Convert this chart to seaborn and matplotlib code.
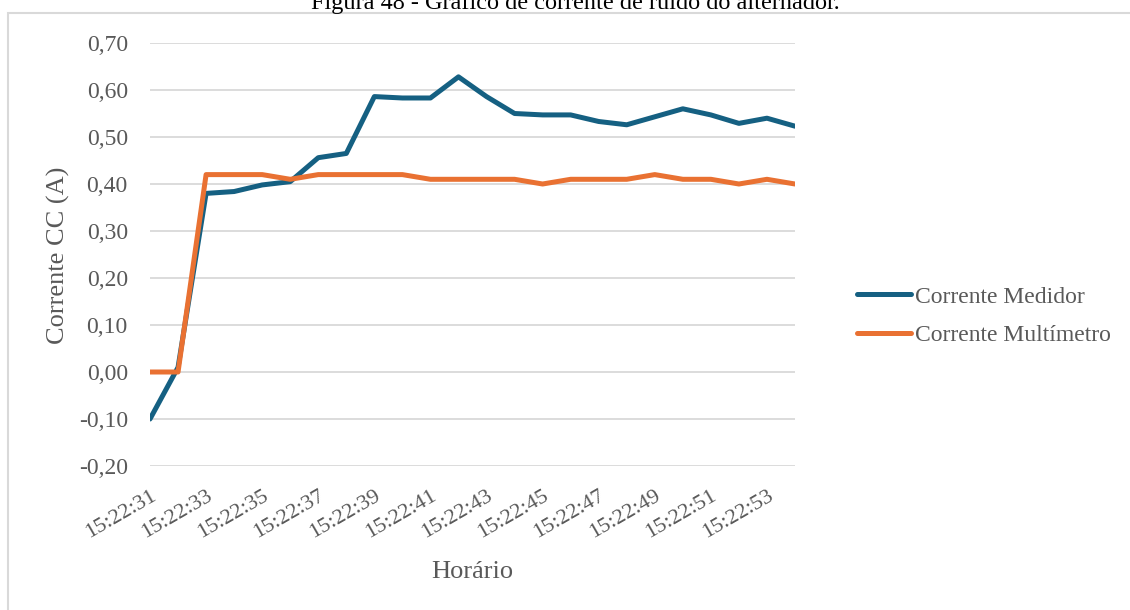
import numpy as np
import pandas as pd
import matplotlib
matplotlib.use("Agg")
import matplotlib.pyplot as plt
import seaborn as sns
from matplotlib.patches import Rectangle
from matplotlib.ticker import FuncFormatter, MultipleLocator

# ---- data ----
times = ["15:22:31", "15:22:32", "15:22:33", "15:22:34", "15:22:35", "15:22:36",
         "15:22:37", "15:22:38", "15:22:39", "15:22:40", "15:22:41", "15:22:42",
         "15:22:43", "15:22:44", "15:22:45", "15:22:46", "15:22:47", "15:22:48",
         "15:22:49", "15:22:50", "15:22:51", "15:22:52", "15:22:53", "15:22:54"]
corrente_medidor = [-0.10, 0.01, 0.38, 0.384, 0.398, 0.405, 0.456, 0.465, 0.586, 0.583,
                    0.583, 0.628, 0.586, 0.550, 0.547, 0.547, 0.533, 0.526, 0.543,
                    0.560, 0.547, 0.529, 0.540, 0.523]
corrente_multimetro = [0.00, 0.00, 0.42, 0.42, 0.42, 0.41, 0.42, 0.42, 0.42, 0.42,
                       0.41, 0.41, 0.41, 0.41, 0.40, 0.41, 0.41, 0.41, 0.42, 0.41,
                       0.41, 0.40, 0.41, 0.40]
series_names = ["Corrente Medidor", "Corrente Multímetro"]
colors = ["#156082", "#E97132"]

title = "Figura 48 - Gráfico de corrente de ruído do alternador."
ylabel = "Corrente CC (A)"
xlabel = "Horário"

idx = list(range(len(times)))
df = pd.DataFrame({
    "idx": idx * 2,
    "valor": corrente_medidor + corrente_multimetro,
    "serie": [series_names[0]] * len(times) + [series_names[1]] * len(times),
})

sns.set_theme(style="white")
plt.rcParams["font.family"] = ["Liberation Serif", "DejaVu Serif"]
txt = "#595959"

W, H = 1130, 610
fig = plt.figure(figsize=(W / 100, H / 100), dpi=100)
L, R, T, B = 150, 795, 43, 466
ax = fig.add_axes([L / W, 1 - B / H, (R - L) / W, (B - T) / H])

sns.lineplot(data=df, x="idx", y="valor", hue="serie", palette=colors,
             linewidth=3.6, ax=ax, legend=False, sort=False)
for ln in ax.get_lines():
    ln.set_solid_capstyle("round")
    ln.set_solid_joinstyle("round")
    ln.set_clip_on(True)

ax.set_xlim(0, len(times) - 1)
ax.set_ylim(-0.20, 0.70)
ax.yaxis.set_major_locator(MultipleLocator(0.10))
ax.yaxis.set_major_formatter(FuncFormatter(lambda v, p: f"{v:.2f}".replace(".", ",").replace("-0,00", "0,00")))
ax.set_xticks(idx[::2])
ax.set_xticklabels(times[::2])
ax.grid(axis="y", color="#d9d9d9", linewidth=1.3)
ax.set_axisbelow(True)
for s in ax.spines.values():
    s.set_visible(False)
ax.tick_params(axis="y", length=0, pad=16, labelsize=17, labelcolor=txt)
ax.tick_params(axis="x", length=0, pad=15, labelsize=16, labelcolor=txt)
for lab in ax.get_xticklabels():
    lab.set_rotation(30)
    lab.set_ha("right")
    lab.set_va("top")
    lab.set_rotation_mode("anchor")

ax.set_xlabel("")
ax.set_ylabel("")
fig.text(472 / W, 1 - 572 / H, xlabel, ha="center", va="center", fontsize=19, color=txt)
fig.text(58 / W, 1 - 255 / H, ylabel, ha="center", va="center", rotation=90, fontsize=19, color=txt)

# legend
handles = [plt.Line2D([0], [0], color=c, lw=3.6, solid_capstyle="round") for c in colors]
leg = fig.legend(handles, series_names, loc="center left", bbox_to_anchor=(857 / W, 1 - 316 / H),
                 frameon=False, fontsize=17, labelcolor=txt, handlelength=2.3,
                 handletextpad=0.15, labelspacing=0.7, borderaxespad=0, borderpad=0)

# chart frame and title
fig.patches.append(Rectangle((8 / W, -0.1), 1.2, 1 - 13 / H + 0.1, transform=fig.transFigure,
                             fill=False, edgecolor="#d9d9d9", linewidth=1.5))
fig.text(575 / W, 1 - 9 / H, title, ha="center", va="baseline", fontsize=17.5, color="black")

fig.savefig("out.png", dpi=100)
